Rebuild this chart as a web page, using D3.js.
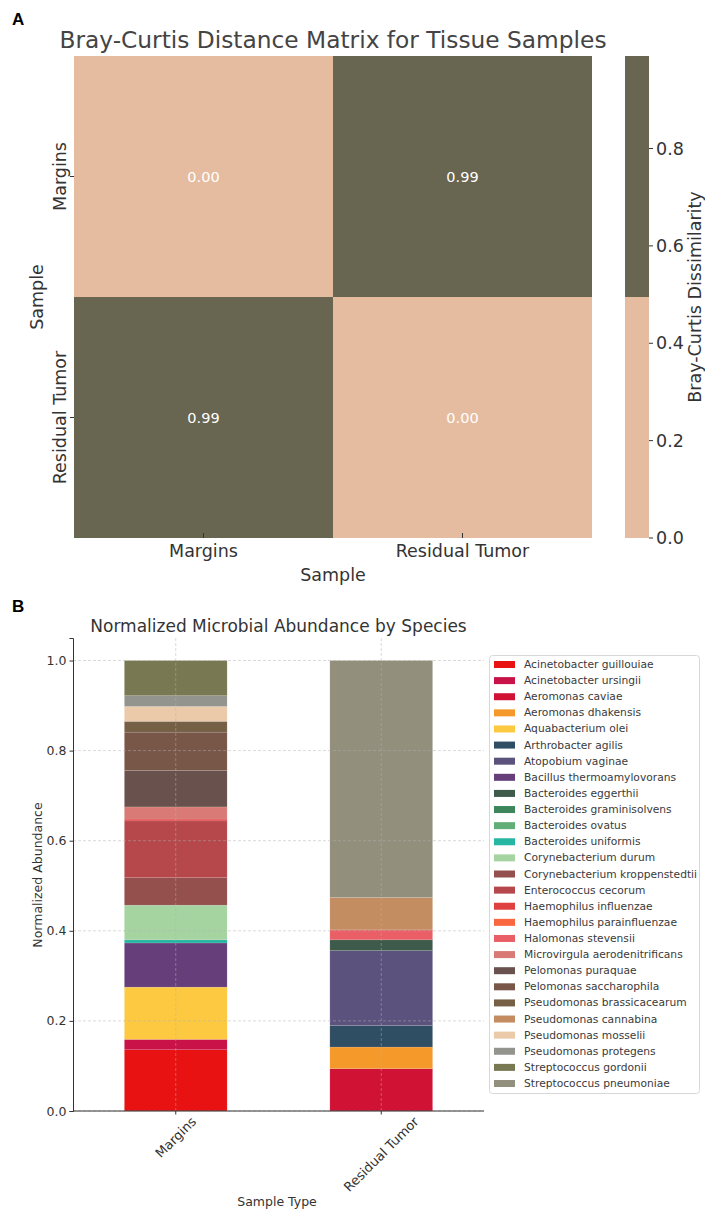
<!DOCTYPE html>
<html><head><meta charset="utf-8">
<script src="https://cdn.jsdelivr.net/npm/d3@7"></script>
<style>body{margin:0;background:#fff}svg{display:block}text{font-family:"DejaVu Sans",sans-serif;fill:#333}</style>
</head><body><svg id="c" width="705" height="1209"></svg>
<script>
// ---- Panel A data ----
const samples = ["Margins", "Residual Tumor"];
const distMatrix = [[0.00, 0.99], [0.99, 0.00]];
const cbTicks = [0.0, 0.2, 0.4, 0.6, 0.8];
const heatColors = ["#e6bca0", "#686550"];

// ---- Panel B data ----
const species = ["Acinetobacter guillouiae","Acinetobacter ursingii","Aeromonas caviae","Aeromonas dhakensis","Aquabacterium olei","Arthrobacter agilis","Atopobium vaginae","Bacillus thermoamylovorans","Bacteroides eggerthii","Bacteroides graminisolvens","Bacteroides ovatus","Bacteroides uniformis","Corynebacterium durum","Corynebacterium kroppenstedtii","Enterococcus cecorum","Haemophilus influenzae","Haemophilus parainfluenzae","Halomonas stevensii","Microvirgula aerodenitrificans","Pelomonas puraquae","Pelomonas saccharophila","Pseudomonas brassicacearum","Pseudomonas cannabina","Pseudomonas mosselii","Pseudomonas protegens","Streptococcus gordonii","Streptococcus pneumoniae"];
const speciesColors = ["#e60000","#c4003a","#cc0026","#f4911a","#fdc532","#1f3f57","#4f4674","#5a3070","#2e4e3c","#2e7d4f","#56a86f","#16b09a","#9ed19a","#8b4340","#b0393d","#dd3333","#fa5a30","#e8525a","#d7706c","#5e4540","#6f4a3a","#6b5438","#bf8455","#e9c6a2","#8b8c84","#6e6e45","#8a8872"];
const marginsValues = [0.136,0.023,0,0,0.116,0,0,0.098,0,0,0,0.007,0.077,0.061,0.126,0.004,0,0,0.027,0.081,0.085,0.024,0,0.033,0.024,0.078,0];
const residualValues = [0,0,0.094,0.048,0,0.048,0.166,0,0.024,0,0,0,0,0,0,0,0,0.022,0,0,0,0,0.072,0,0,0,0.526];
const sampleTypes = ["Margins", "Residual Tumor"];
const yTicksB = [0.0, 0.2, 0.4, 0.6, 0.8, 1.0];

const svg = d3.select("#c");

// ================= Panel A =================
svg.append("text").attr("x", 12).attr("y", 25).text("A")
  .style("font-family", "'Liberation Sans',Arial,sans-serif").style("font-weight", "bold").style("font-size", "17px").style("fill", "#000");

const hx = d3.scaleBand().domain(samples).range([74, 592]);
const hy = d3.scaleBand().domain(samples).range([56, 538]);
const hc = d3.scaleQuantize().domain([0, 0.99]).range(heatColors);

svg.append("text").attr("x", 333).attr("y", 48).attr("text-anchor", "middle")
  .style("font-size", "23.3px").style("fill", "#444").text("Bray-Curtis Distance Matrix for Tissue Samples");

const cells = [];
samples.forEach((r, i) => samples.forEach((c, j) => cells.push({r, c, v: distMatrix[i][j]})));
const gA = svg.append("g");
gA.selectAll("rect").data(cells).join("rect")
  .attr("x", d => hx(d.c)).attr("y", d => hy(d.r))
  .attr("width", hx.bandwidth()).attr("height", hy.bandwidth())
  .attr("fill", d => hc(d.v));
gA.selectAll("text.ann").data(cells).join("text").attr("class", "ann")
  .attr("x", d => hx(d.c) + hx.bandwidth() / 2).attr("y", d => hy(d.r) + hy.bandwidth() / 2)
  .attr("text-anchor", "middle").attr("dominant-baseline", "central")
  .style("font-size", "14.5px").style("fill", "#fff").text(d => d.v.toFixed(2));

samples.forEach(s => {
  const x = hx(s) + hx.bandwidth() / 2;
  svg.append("line").attr("x1", x).attr("x2", x).attr("y1", 533).attr("y2", 538).attr("stroke", "#333").attr("stroke-width", 1);
  svg.append("text").attr("x", x).attr("y", 557).attr("text-anchor", "middle").style("font-size", "17.5px").text(s);
  const y = hy(s) + hy.bandwidth() / 2;
  svg.append("line").attr("x1", 70).attr("x2", 74).attr("y1", y).attr("y2", y).attr("stroke", "#333").attr("stroke-width", 1);
  svg.append("text").attr("transform", `translate(66,${y}) rotate(-90)`).attr("text-anchor", "middle")
    .style("font-size", "17.5px").text(s);
});
svg.append("text").attr("x", 333).attr("y", 581).attr("text-anchor", "middle").style("font-size", "17.5px").text("Sample");
svg.append("text").attr("transform", "translate(43,297) rotate(-90)").attr("text-anchor", "middle").style("font-size", "17.5px").text("Sample");

// colorbar
const cy = d3.scaleLinear().domain([0, 0.99]).range([538, 56]);
const thr = hc.thresholds();
const cbSegs = [[0, thr[0]], [thr[0], 0.99]];
svg.selectAll("rect.cb").data(cbSegs).join("rect").attr("class", "cb")
  .attr("x", 625).attr("width", 24)
  .attr("y", d => cy(d[1])).attr("height", d => cy(d[0]) - cy(d[1]))
  .attr("fill", (d, i) => heatColors[i]);
cbTicks.forEach(t => {
  svg.append("line").attr("x1", 649).attr("x2", 653).attr("y1", cy(t)).attr("y2", cy(t)).attr("stroke", "#333");
  svg.append("text").attr("x", 656).attr("y", cy(t)).attr("dominant-baseline", "central").style("font-size", "17.5px").text(t.toFixed(1));
});
svg.append("text").attr("transform", "translate(701,297) rotate(-90)").attr("text-anchor", "middle").style("font-size", "17.5px").text("Bray-Curtis Dissimilarity");

// ================= Panel B =================
svg.append("text").attr("x", 12).attr("y", 612).text("B")
  .style("font-family", "'Liberation Sans',Arial,sans-serif").style("font-weight", "bold").style("font-size", "17px").style("fill", "#000");

const bx = d3.scaleBand().domain(sampleTypes).range([73, 484]).paddingInner(0.5).paddingOuter(0.25);
const by = d3.scaleLinear().domain([0, 1.05]).range([1111, 638]);

svg.append("text").attr("x", 278.5).attr("y", 632).attr("text-anchor", "middle").style("font-size", "17px").text("Normalized Microbial Abundance by Species");

const table = sampleTypes.map((s, i) => {
  const o = {sample: s};
  species.forEach((sp, k) => o[sp] = (i === 0 ? marginsValues : residualValues)[k]);
  return o;
});
const stacked = d3.stack().keys(species)(table);
const gB = svg.append("g");
stacked.forEach((layer, k) => {
  gB.selectAll(null).data(layer.filter(d => d[1] - d[0] > 0)).join("rect")
    .attr("x", d => bx(d.data.sample)).attr("width", bx.bandwidth())
    .attr("y", d => by(d[1])).attr("height", d => by(d[0]) - by(d[1]))
    .attr("fill", speciesColors[k]).attr("fill-opacity", 0.93)
    .attr("stroke", "#fff").attr("stroke-opacity", 0.2).attr("stroke-width", 0.6);
});

// grid
const gG = svg.append("g");
yTicksB.forEach(t => gG.append("line").attr("x1", 73).attr("x2", 484).attr("y1", by(t)).attr("y2", by(t))
  .attr("stroke", "#b0b0b0").attr("stroke-opacity", 0.6).attr("stroke-dasharray", "3,2").attr("stroke-width", 0.8));
sampleTypes.forEach(s => {
  const x = bx(s) + bx.bandwidth() / 2;
  gG.append("line").attr("x1", x).attr("x2", x).attr("y1", 638).attr("y2", 1111)
    .attr("stroke", "#b0b0b0").attr("stroke-opacity", 0.6).attr("stroke-dasharray", "3,2").attr("stroke-width", 0.8);
});

// axes
const yAxis = svg.append("g").attr("transform", "translate(73,0)")
  .call(d3.axisLeft(by).tickValues(yTicksB).tickFormat(d3.format(".1f")).tickSize(3.5).tickPadding(3));
const xAxis = svg.append("g").attr("transform", "translate(0,1111)")
  .call(d3.axisBottom(bx).tickSize(3.5).tickFormat(""));
[yAxis, xAxis].forEach(a => {
  a.select(".domain").attr("stroke", "#333").attr("stroke-width", 1);
  a.selectAll(".tick line").attr("stroke", "#333");
  a.selectAll(".tick text").style("font-family", "'DejaVu Sans',sans-serif").style("font-size", "12.5px").attr("fill", "#333");
});
xAxis.select(".domain").attr("d", "M73,0H484");
sampleTypes.forEach(s => {
  const x = bx(s) + bx.bandwidth() / 2;
  const t = svg.append("text").attr("text-anchor", "middle").attr("dominant-baseline", "central").style("font-size", "13px").text(s);
  const w = t.node().getComputedTextLength();
  const h = (w + 12) * Math.SQRT1_2;
  t.attr("transform", `translate(${x},${1115 + h / 2}) rotate(-45)`);
});
svg.append("text").attr("x", 277).attr("y", 1206).attr("text-anchor", "middle").style("font-size", "12.5px").text("Sample Type");
svg.append("text").attr("transform", "translate(42,875) rotate(-90)").attr("text-anchor", "middle").style("font-size", "12.5px").text("Normalized Abundance");

// legend
const lg = svg.append("g");
lg.append("rect").attr("x", 489.5).attr("y", 655.5).attr("width", 210).attr("height", 438).attr("rx", 3)
  .attr("fill", "#fff").attr("fill-opacity", 0.8).attr("stroke", "#d8d8d8");
const ly = d3.scalePoint().domain(species).range([664.5, 1083.5]);
lg.selectAll("rect.sw").data(species).join("rect").attr("class", "sw")
  .attr("x", 494).attr("width", 21).attr("y", d => ly(d) - 3.5).attr("height", 7)
  .attr("fill", (d, i) => speciesColors[i]).attr("fill-opacity", 0.93);
lg.selectAll("text").data(species).join("text")
  .attr("x", 524).attr("y", d => ly(d)).attr("dominant-baseline", "central")
  .style("font-size", "10.7px").style("fill", "#3a3a3a").text(d => d);
</script></body></html>
